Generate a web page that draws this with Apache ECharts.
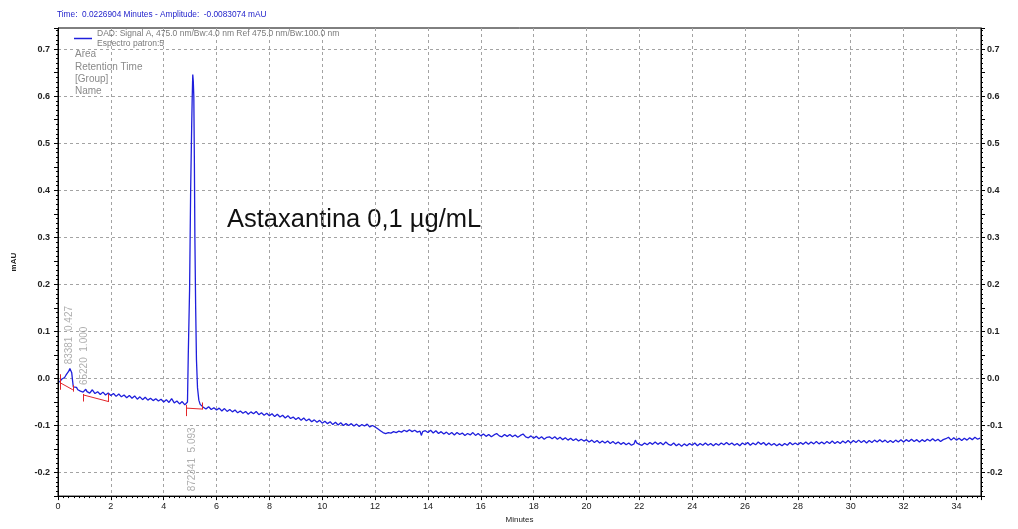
<!DOCTYPE html>
<html>
<head>
<meta charset="utf-8">
<title>Astaxantina 0,1 µg/mL</title>
<script src="https://cdn.jsdelivr.net/npm/echarts@6/dist/echarts.min.js"></script>
<style>
  html, body { margin: 0; padding: 0; background: #fff; }
  #chart { width: 1018px; height: 529px; }
</style>
</head>
<body>
<div id="chart"></div>
<script>
// DAD signal, [minutes, mAU]
const signal = [
  [0.05,-0.008],[0.1,-0.005],[0.15,-0.001],[0.2,0.003],[0.25,0.002],[0.3,0.007],[0.35,0.009],[0.4,0.015],[0.45,0.021],[0.48,0.019],
  [0.52,0.012],[0.55,-0.004],[0.58,-0.018],[0.63,-0.021],[0.7,-0.019],[0.75,-0.024],[0.8,-0.022],[0.85,-0.027],[0.9,-0.025],[0.95,-0.029],
  [1.0,-0.026],[1.05,-0.023],[1.1,-0.028],[1.15,-0.025],[1.2,-0.031],[1.3,-0.024],[1.4,-0.032],[1.5,-0.028],[1.6,-0.034],[1.7,-0.029],
  [1.8,-0.035],[1.9,-0.031],[2.0,-0.036],[2.1,-0.032],[2.2,-0.038],[2.3,-0.033],[2.4,-0.039],[2.5,-0.035],[2.6,-0.041],[2.7,-0.036],
  [2.8,-0.042],[2.9,-0.037],[3.0,-0.044],[3.1,-0.039],[3.2,-0.045],[3.3,-0.04],[3.4,-0.046],[3.5,-0.042],[3.6,-0.047],[3.7,-0.043],
  [3.8,-0.048],[3.9,-0.044],[4.0,-0.05],[4.1,-0.045],[4.2,-0.051],[4.3,-0.043],[4.4,-0.052],[4.5,-0.048],[4.6,-0.054],[4.7,-0.049],
  [4.8,-0.056],[4.86,-0.057],[4.9,-0.05],[4.93,0.05],[4.98,0.19],[5.02,0.4],[5.06,0.54],[5.08,0.6],[5.1,0.646],[5.12,0.632],
  [5.14,0.6],[5.16,0.47],[5.18,0.3],[5.21,0.15],[5.24,0.04],[5.28,-0.02],[5.33,-0.046],[5.38,-0.055],[5.43,-0.059],[5.5,-0.061],
  [5.6,-0.065],[5.7,-0.06],[5.8,-0.066],[5.9,-0.062],[6.0,-0.067],[6.1,-0.063],[6.2,-0.069],[6.3,-0.064],[6.4,-0.07],[6.5,-0.066],
  [6.6,-0.071],[6.7,-0.067],[6.8,-0.073],[6.9,-0.069],[7.0,-0.074],[7.1,-0.07],[7.2,-0.076],[7.3,-0.071],[7.4,-0.075],[7.5,-0.07],
  [7.6,-0.077],[7.7,-0.073],[7.8,-0.078],[7.9,-0.074],[8.0,-0.079],[8.1,-0.075],[8.2,-0.081],[8.3,-0.076],[8.4,-0.082],[8.5,-0.078],
  [8.6,-0.084],[8.7,-0.079],[8.8,-0.085],[8.9,-0.082],[9.0,-0.087],[9.1,-0.083],[9.2,-0.089],[9.3,-0.084],[9.4,-0.09],[9.5,-0.086],
  [9.6,-0.092],[9.7,-0.088],[9.8,-0.093],[9.9,-0.089],[10.0,-0.095],[10.1,-0.091],[10.2,-0.096],[10.3,-0.092],[10.4,-0.098],[10.5,-0.093],
  [10.6,-0.099],[10.7,-0.094],[10.8,-0.1],[10.9,-0.096],[11.0,-0.1],[11.1,-0.096],[11.2,-0.101],[11.3,-0.097],[11.4,-0.102],[11.5,-0.098],
  [11.6,-0.101],[11.7,-0.097],[11.8,-0.103],[11.9,-0.1],[12.0,-0.103],[12.1,-0.107],[12.2,-0.111],[12.3,-0.115],[12.4,-0.117],[12.5,-0.115],
  [12.6,-0.116],[12.7,-0.113],[12.8,-0.115],[12.9,-0.112],[13.0,-0.114],[13.1,-0.11],[13.2,-0.113],[13.3,-0.109],[13.4,-0.113],[13.5,-0.11],
  [13.6,-0.114],[13.7,-0.112],[13.75,-0.121],[13.8,-0.113],[13.9,-0.111],[14.0,-0.115],[14.1,-0.11],[14.2,-0.116],[14.3,-0.111],[14.4,-0.117],
  [14.5,-0.113],[14.6,-0.118],[14.7,-0.114],[14.8,-0.119],[14.9,-0.115],[15.0,-0.12],[15.1,-0.115],[15.2,-0.119],[15.3,-0.116],[15.4,-0.121],
  [15.5,-0.117],[15.6,-0.12],[15.7,-0.115],[15.8,-0.121],[15.9,-0.117],[16.0,-0.122],[16.1,-0.118],[16.2,-0.123],[16.3,-0.119],[16.4,-0.124],
  [16.5,-0.12],[16.6,-0.117],[16.7,-0.122],[16.8,-0.124],[16.9,-0.119],[17.0,-0.123],[17.1,-0.119],[17.2,-0.124],[17.3,-0.12],[17.4,-0.125],
  [17.5,-0.121],[17.6,-0.118],[17.7,-0.124],[17.8,-0.126],[17.9,-0.122],[18.0,-0.127],[18.1,-0.123],[18.2,-0.128],[18.3,-0.124],[18.4,-0.129],
  [18.5,-0.125],[18.6,-0.124],[18.7,-0.128],[18.8,-0.124],[18.9,-0.129],[19.0,-0.125],[19.1,-0.13],[19.2,-0.126],[19.3,-0.131],[19.4,-0.127],
  [19.5,-0.132],[19.6,-0.128],[19.7,-0.133],[19.8,-0.129],[19.9,-0.133],[20.0,-0.13],[20.1,-0.135],[20.2,-0.131],[20.3,-0.136],[20.4,-0.132],
  [20.5,-0.137],[20.6,-0.133],[20.7,-0.137],[20.8,-0.133],[20.9,-0.138],[21.0,-0.134],[21.1,-0.139],[21.2,-0.135],[21.3,-0.14],[21.4,-0.136],
  [21.5,-0.141],[21.6,-0.137],[21.7,-0.142],[21.8,-0.139],[21.85,-0.131],[21.9,-0.137],[22.0,-0.14],[22.1,-0.142],[22.2,-0.137],[22.3,-0.141],
  [22.4,-0.136],[22.5,-0.14],[22.6,-0.135],[22.7,-0.14],[22.8,-0.136],[22.9,-0.141],[23.0,-0.135],[23.1,-0.14],[23.2,-0.142],[23.3,-0.137],
  [23.4,-0.143],[23.5,-0.139],[23.6,-0.144],[23.7,-0.139],[23.8,-0.143],[23.9,-0.138],[24.0,-0.142],[24.1,-0.137],[24.2,-0.143],[24.3,-0.138],
  [24.4,-0.142],[24.5,-0.137],[24.6,-0.142],[24.7,-0.138],[24.8,-0.143],[24.9,-0.138],[25.0,-0.142],[25.1,-0.137],[25.2,-0.141],[25.3,-0.136],
  [25.4,-0.141],[25.5,-0.137],[25.6,-0.142],[25.7,-0.138],[25.8,-0.143],[25.9,-0.137],[26.0,-0.141],[26.1,-0.136],[26.2,-0.142],[26.3,-0.137],
  [26.4,-0.141],[26.5,-0.135],[26.6,-0.14],[26.7,-0.136],[26.8,-0.142],[26.9,-0.137],[27.0,-0.142],[27.1,-0.138],[27.2,-0.143],[27.3,-0.139],
  [27.4,-0.143],[27.5,-0.138],[27.6,-0.142],[27.7,-0.136],[27.8,-0.141],[27.9,-0.137],[28.0,-0.141],[28.1,-0.136],[28.2,-0.14],[28.3,-0.135],
  [28.4,-0.14],[28.5,-0.135],[28.6,-0.139],[28.7,-0.134],[28.8,-0.139],[28.9,-0.135],[29.0,-0.139],[29.1,-0.134],[29.2,-0.138],[29.3,-0.133],
  [29.4,-0.138],[29.5,-0.134],[29.6,-0.138],[29.7,-0.133],[29.8,-0.137],[29.9,-0.132],[30.0,-0.137],[30.1,-0.132],[30.2,-0.136],[30.3,-0.131],
  [30.4,-0.136],[30.5,-0.132],[30.6,-0.137],[30.7,-0.132],[30.8,-0.136],[30.9,-0.131],[31.0,-0.135],[31.1,-0.13],[31.2,-0.135],[31.3,-0.131],
  [31.4,-0.136],[31.5,-0.132],[31.6,-0.136],[31.7,-0.131],[31.8,-0.135],[31.9,-0.13],[32.0,-0.135],[32.1,-0.13],[32.2,-0.134],[32.3,-0.129],
  [32.4,-0.134],[32.5,-0.13],[32.6,-0.135],[32.7,-0.13],[32.8,-0.134],[32.9,-0.129],[33.0,-0.133],[33.1,-0.128],[33.2,-0.133],[33.3,-0.129],
  [33.4,-0.134],[33.5,-0.13],[33.6,-0.128],[33.7,-0.125],[33.8,-0.131],[33.9,-0.126],[34.0,-0.131],[34.1,-0.127],[34.2,-0.132],[34.3,-0.127],
  [34.4,-0.131],[34.5,-0.126],[34.6,-0.13],[34.7,-0.125],[34.8,-0.129],[34.9,-0.127]
];

// integrated peaks
const peakTimes = [0.427, 1.0, 5.093];
const peakAreas = [83381, 65220, 872341];
const peakLabelY = [0.03, -0.014, -0.104];
const peakLabelSide = ['up', 'up', 'down'];

// integration baselines [t0, v0, t1, v1] and their end marks [t, low, high]
const baselineSegments = [[0.08, -0.009, 0.56, -0.024], [0.96, -0.035, 1.91, -0.049], [4.87, -0.063, 5.46, -0.065]];
const baselineMarks = [[0.08, -0.024, 0.009], [0.56, -0.028, -0.014], [0.96, -0.049, -0.033], [1.91, -0.05, -0.032], [4.87, -0.08, -0.056], [5.46, -0.066, -0.051]];

const xRange = [0, 34.93];
const yRange = [-0.25, 0.745];

const headerText = 'Time:  0.0226904 Minutes - Amplitude:  -0.0083074 mAU';
const signalName = 'DAD: Signal A, 475.0 nm/Bw:4.0 nm Ref 475.0 nm/Bw:100.0 nm';
const sampleName = 'Espectro patron:5';
const peakFields = ['Area', 'Retention Time', '[Group]', 'Name'];
const annotation = 'Astaxantina 0,1 µg/mL';

const narrow = "'Liberation Sans Narrow', 'Liberation Sans', Arial, sans-serif";
const sans = "'Liberation Sans', Arial, sans-serif";

const chart = echarts.init(document.getElementById('chart'));

const yLabel = v => Math.abs(Math.round(v * 100)) % 10 === 0 ? v.toFixed(1) : '';
const xLabel = v => Math.abs(v - Math.round(v)) < 1e-6 && Math.round(v) % 2 === 0 ? String(Math.round(v)) : '';

const valueAxisY = (pos) => ({
  type: 'value',
  position: pos,
  min: yRange[0],
  max: yRange[1],
  interval: 0.05,
  axisLine: { show: true, lineStyle: { color: '#000', width: 1 } },
  axisTick: { show: true, length: 4, lineStyle: { color: '#000' } },
  minorTick: { show: true, splitNumber: 5, length: 2, lineStyle: { color: '#000' } },
  axisLabel: {
    formatter: yLabel,
    margin: pos === 'left' ? 8 : 6,
    color: '#222',
    fontSize: 9,
    fontWeight: 'bold',
    fontFamily: sans
  },
  splitLine: { show: false }
});

const leftAxis = valueAxisY('left');
leftAxis.name = 'mAU';
leftAxis.nameLocation = 'middle';
leftAxis.nameGap = 40;
leftAxis.nameTextStyle = { fontSize: 8, fontWeight: 'bold', color: '#222', fontFamily: narrow };
leftAxis.splitLine = {
  show: true,
  showMinLine: true,
  lineStyle: { color: ['rgba(0,0,0,0)', '#a3a3a3'], type: [3, 3], width: 1 }
};

const option = {
  animation: false,
  backgroundColor: '#fff',
  title: {
    text: headerText,
    left: 57,
    top: 11,
    padding: 0,
    textStyle: { color: '#2424cc', fontSize: 8.3, fontWeight: 'normal', fontFamily: narrow }
  },
  legend: {
    left: 74,
    top: 29,
    padding: 0,
    icon: 'rect',
    itemWidth: 18,
    itemHeight: 1.5,
    data: [signalName],
    formatter: n => n + '\n' + sampleName,
    textStyle: { color: '#7a7a7a', fontSize: 8.5, lineHeight: 9.5, fontFamily: sans }
  },
  grid: {
    left: 58,
    right: 37,
    top: 28,
    bottom: 26,
    show: true,
    borderColor: '#000',
    borderWidth: 1
  },
  xAxis: {
    type: 'value',
    min: xRange[0],
    max: xRange[1],
    interval: 2,
    name: 'Minutes',
    nameLocation: 'middle',
    nameGap: 15,
    nameTextStyle: { fontSize: 8, color: '#222', fontFamily: narrow },
    axisLine: { show: true, onZero: false, lineStyle: { color: '#000', width: 1 } },
    axisTick: { show: true, length: 4, lineStyle: { color: '#000' } },
    minorTick: { show: true, splitNumber: 10, length: 2, lineStyle: { color: '#000' } },
    axisLabel: { formatter: xLabel, margin: 6, color: '#222', fontSize: 9, fontFamily: narrow },
    splitLine: { show: true, lineStyle: { color: '#a3a3a3', type: [3, 3], width: 1 } }
  },
  yAxis: [leftAxis, valueAxisY('right')],
  graphic: peakFields.map((t, i) => ({
    type: 'text',
    left: 75,
    top: 49.5 + i * 12.4,
    silent: true,
    style: { text: t, fill: '#8a8a8a', font: '10px ' + sans }
  })).concat([{
    type: 'text',
    left: 227,
    top: 207,
    silent: true,
    style: { text: annotation, fill: '#111', font: '25.5px ' + sans }
  }]),
  series: [
    {
      name: signalName,
      type: 'line',
      data: signal,
      showSymbol: false,
      symbol: 'none',
      color: '#1f1fdc',
      lineStyle: { color: '#1f1fdc', width: 1.3 },
      z: 3
    },
    {
      type: 'lines',
      coordinateSystem: 'cartesian2d',
      silent: true,
      z: 4,
      lineStyle: { color: '#e3262a', width: 1, opacity: 1, curveness: 0 },
      data: baselineSegments.map(s => ({ coords: [[s[0], s[1]], [s[2], s[3]]] }))
        .concat(baselineMarks.map(m => ({ coords: [[m[0], m[1]], [m[0], m[2]]] })))
    },
    {
      type: 'scatter',
      silent: true,
      symbolSize: 0,
      data: peakTimes.map((t, i) => ({
        value: [t, peakLabelY[i]],
        label: { align: peakLabelSide[i] === 'up' ? 'left' : 'right' }
      })),
      label: {
        show: true,
        position: 'inside',
        rotate: 90,
        verticalAlign: 'middle',
        color: '#9a9a9a',
        fontSize: 10,
        fontFamily: sans,
        formatter: p => peakAreas[p.dataIndex] + '  ' + peakTimes[p.dataIndex].toFixed(3)
      }
    }
  ]
};

chart.setOption(option);
window.addEventListener('resize', () => chart.resize());
</script>
</body>
</html>
